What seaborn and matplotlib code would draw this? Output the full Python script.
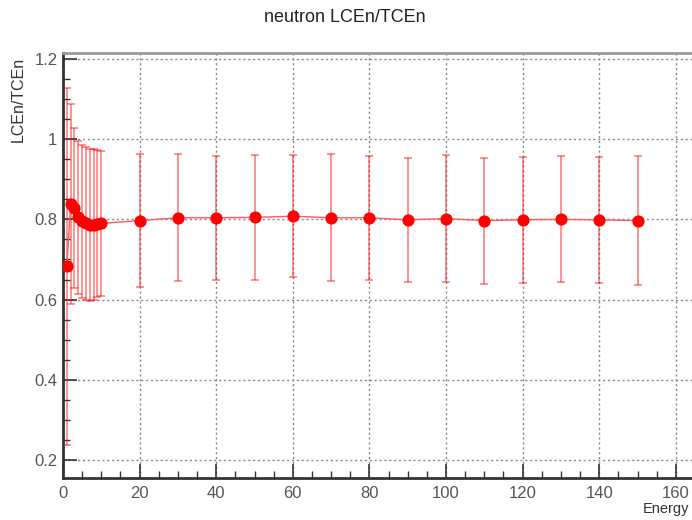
import matplotlib
matplotlib.use("Agg")
import matplotlib.pyplot as plt
import seaborn as sns
import pandas as pd
import numpy as np
from matplotlib.ticker import MultipleLocator, FixedLocator

energy = [1, 2, 3, 4, 5, 6, 7, 8, 9, 10, 20, 30, 40, 50, 60, 70, 80, 90, 100, 110, 120, 130, 140, 150]
ratio = [0.683, 0.838, 0.828, 0.805, 0.795, 0.790, 0.786, 0.787, 0.789, 0.790,
         0.797, 0.804, 0.804, 0.805, 0.808, 0.804, 0.804, 0.799, 0.802, 0.797,
         0.799, 0.800, 0.799, 0.797]
err = [0.445, 0.250, 0.200, 0.190, 0.190, 0.190, 0.190, 0.188, 0.183, 0.180,
       0.165, 0.158, 0.155, 0.155, 0.152, 0.158, 0.155, 0.155, 0.158, 0.157,
       0.157, 0.157, 0.157, 0.160]
xticks = [0, 20, 40, 60, 80, 100, 120, 140, 160]
yticks = [0.2, 0.4, 0.6, 0.8, 1.0, 1.2]
ytick_labels = ["0.2", "0.4", "0.6", "0.8", "1", "1.2"]

df = pd.DataFrame({"Energy": energy, "ratio": ratio, "err": err})

sns.set_theme(style="white")
plt.rcParams["font.family"] = ["Liberation Sans", "DejaVu Sans"]

fig = plt.figure(figsize=(6.92, 5.2), dpi=100)
ax = fig.add_axes([63 / 692, 42 / 520, 632 / 692, 425 / 520])

ax.errorbar(df["Energy"], df["ratio"], yerr=df["err"], fmt="none",
            ecolor=(1, 0, 0, 0.5), elinewidth=1.2, capsize=3, capthick=1.2, zorder=3)
sns.lineplot(data=df, x="Energy", y="ratio", ax=ax, color=(1, 0.35, 0.35),
             linewidth=1.0, marker="o", markersize=8, markerfacecolor="red",
             markeredgecolor="red", zorder=4)

ax.set_xlim(0, 165)
ax.set_ylim(0.155, 1.215)
ax.xaxis.set_major_locator(FixedLocator(xticks))
ax.xaxis.set_minor_locator(MultipleLocator(5))
ax.yaxis.set_major_locator(FixedLocator(yticks))
ax.set_yticklabels(ytick_labels)
ax.yaxis.set_minor_locator(MultipleLocator(0.05))

ax.tick_params(axis="both", which="major", direction="in", length=10, width=1.2,
               color="#333333", labelsize=12, labelcolor="#555555", bottom=True, left=True)
ax.tick_params(axis="both", which="minor", direction="in", length=5, width=1.0,
               color="#333333", bottom=True, left=True)
ax.tick_params(axis="x", which="major", pad=6)
ax.tick_params(axis="y", which="major", pad=4)

ax.grid(True, which="major", color="#888888", linestyle=(0, (1.5, 2)), linewidth=1.0)
ax.set_axisbelow(True)

for side in ["left", "bottom"]:
    ax.spines[side].set_color("#333333")
    ax.spines[side].set_linewidth(2)
for side in ["top", "right"]:
    ax.spines[side].set_color("#999999")
    ax.spines[side].set_linewidth(2)

ax.set_xlabel("Energy", fontsize=10.5, color="#333333")
ax.xaxis.set_label_coords(1 - 6 / 632, -24 / 425)
ax.xaxis.label.set_ha("right")
ax.set_ylabel("LCEn/TCEn", fontsize=11.5, color="#333333")
ax.yaxis.set_label_coords(-37 / 632, 1 - 4 / 425)
ax.yaxis.label.set_va("bottom")
ax.yaxis.label.set_ha("right")
ax.yaxis.label.set_rotation(90)

fig.text(345 / 692, 1 - 18 / 520, "neutron LCEn/TCEn", ha="center", va="center",
         fontsize=13, color="#222222")

fig.savefig("out.png", dpi=100)
